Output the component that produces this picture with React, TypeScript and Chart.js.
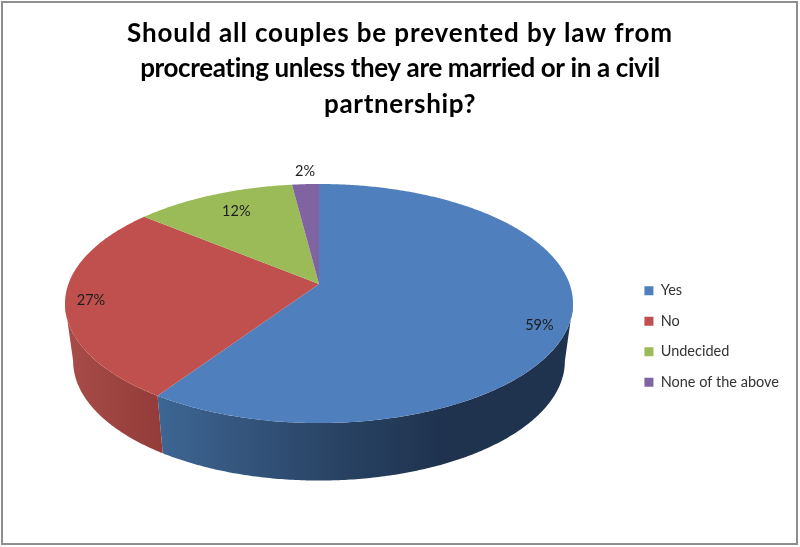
import React, { useEffect, useRef } from "react";
import { Chart, registerables } from "chart.js";

Chart.register(...registerables);

const categories = ["Yes", "No", "Undecided", "None of the above"];
const percentages = [59.4, 26.6, 12, 2];
const sliceColors = ["#4F7FBC", "#C0504D", "#9BBB59", "#8064A2"];
const titleLines = [
  "Should all couples be prevented by law from",
  "procreating unless they are married or in a civil",
  "partnership?",
];

// Title line layout: text baseline and target width of each line
const titleBaselines = [42, 77, 113];
const titleWidths = [546, 520, 152];

// Perspective view of the pie disc
const CX = 319;
const APEX_Y = 284;
const PERSP = 0.1632;
const SLOPE = -70;
const SPREAD = 250.6;
const DEPTH = 57.5;
const BASE_SCALE = 0.968;
const FRONT_START = Math.asin(PERSP);
const FRONT_END = Math.PI - Math.asin(PERSP);

const project = (u: number, v: number) => {
  const d = 1 + PERSP * v;
  return { x: CX + (SPREAD * u) / d, y: (SLOPE * v + APEX_Y) / d };
};
const rimPoint = (a: number, r = 1) => project(r * Math.cos(a), -r * Math.sin(a));
const basePoint = (a: number) => {
  const p = rimPoint(a);
  return { x: CX + (p.x - CX) * BASE_SCALE, y: p.y + DEPTH };
};
const sample = (a0: number, a1: number, fn: (a: number) => { x: number; y: number }) => {
  const n = Math.max(2, Math.ceil(Math.abs(a1 - a0) / 0.01));
  const out = [];
  for (let i = 0; i <= n; i++) out.push(fn(a0 + ((a1 - a0) * i) / n));
  return out;
};

const labelPlacement = [
  { r: 0.9, dx: -5, dy: 9 },
  { r: 0.9, dx: 0, dy: 1 },
  { r: 0.8, dx: 4, dy: 0.5 },
  { r: 1.13, dx: 1, dy: -2 },
];

const sideFill = (ctx: CanvasRenderingContext2D, index: number) => {
  if (index === 0) {
    const g = ctx.createLinearGradient(158, 0, 440, 0);
    g.addColorStop(0, "#3E6694");
    g.addColorStop(0.57, "#2B4668");
    g.addColorStop(1, "#1F334F");
    return g;
  }
  if (index === 1) {
    const g = ctx.createLinearGradient(65, 0, 160, 0);
    g.addColorStop(0, "#A84C49");
    g.addColorStop(1, "#933C39");
    return g;
  }
  return index === 2 ? "#7A9446" : "#654E80";
};

const pie3d = {
  id: "pie3d",
  beforeDatasetsDraw(chart: any) {
    const ctx: CanvasRenderingContext2D = chart.ctx;
    const arcs = chart.getDatasetMeta(0).data;
    ctx.save();
    arcs.forEach((arc: any, i: number) => {
      const a0 = Math.max(arc.startAngle, FRONT_START);
      const a1 = Math.min(arc.endAngle, FRONT_END);
      if (a1 <= a0) return;
      const top = sample(a0, a1, rimPoint);
      const base = sample(a1, a0, basePoint);
      ctx.beginPath();
      [...top, ...base].forEach((p, k) => (k ? ctx.lineTo(p.x, p.y) : ctx.moveTo(p.x, p.y)));
      ctx.closePath();
      ctx.fillStyle = sideFill(ctx, i);
      ctx.fill();
    });
    arcs.forEach((arc: any, i: number) => {
      const top = sample(arc.startAngle, arc.endAngle, rimPoint);
      ctx.beginPath();
      ctx.moveTo(CX, APEX_Y);
      top.forEach((p) => ctx.lineTo(p.x, p.y));
      ctx.closePath();
      ctx.fillStyle = sliceColors[i];
      ctx.fill();
    });
    ctx.font = "14.5px Lato";
    ctx.fillStyle = "#1c1c1c";
    ctx.textAlign = "center";
    ctx.textBaseline = "middle";
    arcs.forEach((arc: any, i: number) => {
      const mid = (arc.startAngle + arc.endAngle) / 2;
      const { r, dx, dy } = labelPlacement[i];
      const p = rimPoint(mid, r);
      ctx.fillText(`${Math.round(percentages[i])}%`, p.x + dx, p.y + dy);
    });
    ctx.restore();
    return false;
  },
};

const pageFrame = {
  id: "pageFrame",
  beforeDraw(chart: any) {
    const ctx: any = chart.ctx;
    ctx.save();
    ctx.fillStyle = "#ffffff";
    ctx.fillRect(0, 0, chart.width, chart.height);
    ctx.strokeStyle = "#8E8E8E";
    ctx.lineWidth = 2;
    ctx.strokeRect(2, 2, 795, 542);
    ctx.font = "bold 26px Lato";
    ctx.fillStyle = "#000000";
    ctx.textAlign = "center";
    ctx.textBaseline = "alphabetic";
    titleLines.forEach((line, i) => {
      ctx.letterSpacing = "0px";
      const natural = ctx.measureText(line).width;
      ctx.letterSpacing = `${(titleWidths[i] - natural) / line.length}px`;
      ctx.fillText(line, 400, titleBaselines[i]);
    });
    ctx.restore();
  },
};

export default function App() {
  const ref = useRef<HTMLCanvasElement>(null);
  useEffect(() => {
    document.body.style.margin = "0";
    const chart = new Chart(ref.current!, {
      type: "pie",
      data: {
        labels: categories,
        datasets: [{ data: percentages, backgroundColor: sliceColors, borderWidth: 0 }],
      },
      plugins: [pageFrame, pie3d],
      options: {
        animation: false,
        responsive: false,
        devicePixelRatio: 1,
        layout: { padding: { right: 11, top: 126 } },
        plugins: {
          tooltip: { enabled: false },
          title: { display: false },
          legend: {
            position: "right",
            labels: {
              boxWidth: 9,
              boxHeight: 9,
              padding: 16,
              color: "#333333",
              font: { family: "Lato", size: 14.5 },
            },
          },
        },
      },
    } as any);
    return () => chart.destroy();
  }, []);
  return <canvas ref={ref} width={800} height={547} style={{ display: "block" }} />;
}
